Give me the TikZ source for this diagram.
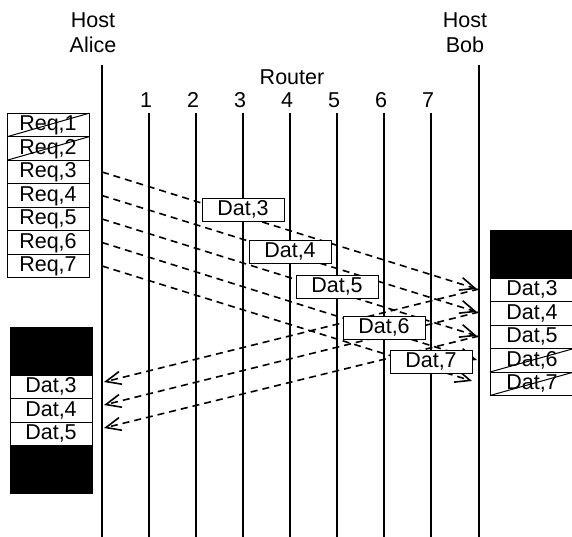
\documentclass[tikz,border=0pt]{standalone}
\usepackage{fontspec}
\setmainfont{Liberation Sans}
\usetikzlibrary{arrows.meta, positioning}

\tikzset{
  lifeline/.style={line width=2.8pt},
  cell/.style={draw, line width=1pt, minimum width=82pt, minimum height=23.5pt,
    inner sep=0pt, outer sep=0pt, text height=15.5pt, text depth=4pt},
  blackcell/.style={cell, fill=black, minimum height=48pt},
  datbox/.style={cell, fill=white, minimum height=23pt},
  msg/.style={line width=1.6pt, dash pattern=on 7pt off 5pt,
    -{Straight Barb[length=15pt,width=13pt]}},
}

\begin{document}
\begin{tikzpicture}[x=1pt, y=-1pt, font=\fontsize{21.5}{25}\selectfont]
    \useasboundingbox (0,0) rectangle (572,537);

    % Hosts
    \coordinate (alicetop) at (102,65);
    \coordinate (alicebot) at (102,537);
    \coordinate (bobtop) at (479,65);
    \coordinate (bobbot) at (479,537);
    \draw[lifeline] (alicetop) -- (alicebot);
    \draw[lifeline] (bobtop) -- (bobbot);
    \node[align=center] (alice) at (93,33) {Host\\Alice};
    \node[align=center] (bob) at (465,33) {Host\\Bob};

    % Routers
    \node (router) at (292,77) {Router};
    \foreach \i in {1,...,7} {
        \coordinate (rtop\i) at (102+47*\i,113);
        \draw[lifeline] (rtop\i) -- ++(0,424);
        \node (num\i) at (99+47*\i,100) {\i};
    }

    % Requests at Alice
    \node[cell] (req1) at (48,125) {Req,1};
    \foreach \i [evaluate=\i as \j using int(\i-1)] in {2,...,7}
        \node[cell, below=0pt of req\j] (req\i) {Req,\i};
    \foreach \i in {1,2}
        \draw[line width=1pt] (req\i.south west) -- (req\i.north east);

    % Data received at Alice
    \node[blackcell] (alicefill1) at (51,351) {};
    \node[cell, below=0pt of alicefill1] (adat3) {Dat,3};
    \node[cell, below=0pt of adat3] (adat4) {Dat,4};
    \node[cell, below=0pt of adat4] (adat5) {Dat,5};
    \node[blackcell, below=0pt of adat5] (alicefill2) {};

    % Data at Bob
    \node[blackcell, minimum width=84pt] (bobfill) at (532,254) {};
    \node[cell, minimum width=84pt, below=0pt of bobfill] (bdat3) {Dat,3};
    \foreach \i [evaluate=\i as \j using int(\i-1)] in {4,...,7}
        \node[cell, minimum width=84pt, below=0pt of bdat\j] (bdat\i) {Dat,\i};
    \foreach \i in {6,7}
        \draw[line width=1pt] (bdat\i.south west) -- (bdat\i.north east);

    % Requests to Bob
    \coordinate (in3) at (477,289);
    \coordinate (in4) at (477,312);
    \coordinate (in5) at (477,336);
    \coordinate (in6) at (477,360);
    \coordinate (in7) at (472,381);
    \foreach \i in {3,...,7}
        \draw[msg] (req\i -| alicetop) -- (in\i);

    % Data back to Alice
    \coordinate (out3) at (104,382);
    \coordinate (out4) at (104,405);
    \coordinate (out5) at (104,428);
    \foreach \i in {3,4,5}
        \draw[msg] (in\i -| bobtop) -- (out\i);

    % Data on the way
    \node[datbox] (dat3) at (243,210) {Dat,3};
    \node[datbox] (dat4) at (290,252) {Dat,4};
    \node[datbox] (dat5) at (337,287) {Dat,5};
    \node[datbox] (dat6) at (384,328) {Dat,6};
    \node[datbox] (dat7) at (431,362) {Dat,7};
\end{tikzpicture}
\end{document}
